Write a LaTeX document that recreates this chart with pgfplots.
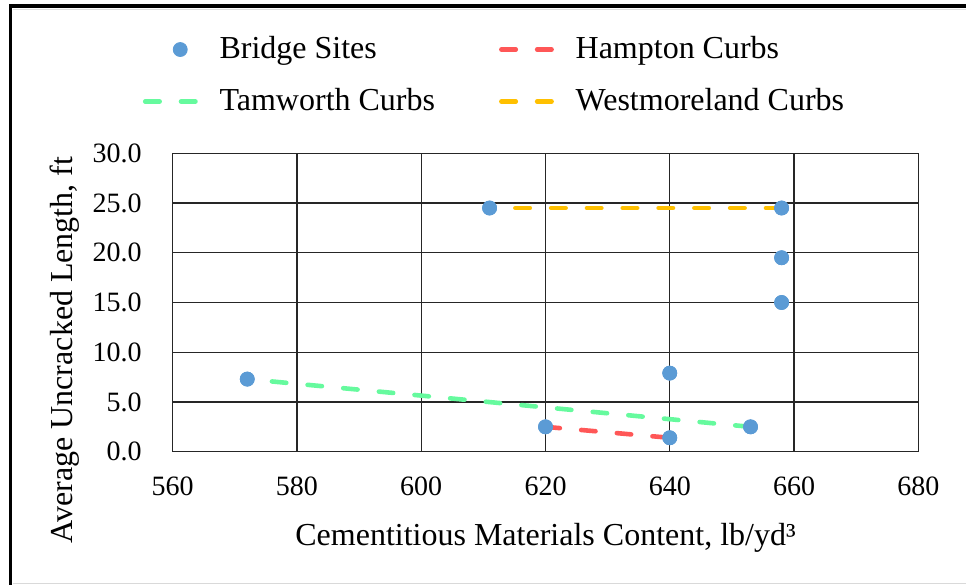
\documentclass[border=0pt]{standalone}
\usepackage{pgfplots}
\pgfplotsset{compat=1.18}
\usepackage{fontspec}
\setmainfont{Liberation Serif}
\definecolor{bridge}{HTML}{5B9BD5}
\definecolor{hampton}{HTML}{FF5757}
\definecolor{tamworth}{HTML}{66FA9E}
\definecolor{westm}{HTML}{FFC000}
\begin{document}
\begin{tikzpicture}
\useasboundingbox (0pt,0pt) rectangle (483pt,-292.5pt);
\draw[black, line width=2.1pt] (4.5pt,-3.1pt) -- (483pt,-3.1pt);
\draw[black, line width=1.65pt] (5.3pt,-3.1pt) -- (5.3pt,-292.5pt);
\draw[black!12, line width=0.6pt] (6.5pt,-4.6pt) -- (483pt,-4.6pt);
\draw[black!15, line width=0.5pt] (6.5pt,-291.5pt) -- (483pt,-291.5pt);
\begin{axis}[
  at={(86.35pt,-225.85pt)}, anchor=south west,
  scale only axis, width=372.8pt, height=149.2pt,
  xmin=560, xmax=680, ymin=0, ymax=30,
  xtick={560,580,...,680}, ytick={0,5,...,30},
  grid=major, major grid style={black!85, line width=0.7pt},
  axis line style={black!85, line width=0.7pt},
  major tick length=0pt,
  /pgf/number format/assume math mode=true,
  tick label style={font=\fontsize{14}{17}\selectfont},
  xticklabel style={/pgf/number format/set thousands separator={}, /tikz/.cd, anchor=north, inner sep=0pt, yshift=-12.6pt},
  yticklabel style={/pgf/number format/.cd, fixed, fixed zerofill, precision=1, /tikz/.cd, anchor=east, inner sep=0pt, xshift=-15.3pt},
  xlabel={Cementitious Materials Content, lb/yd³},
  xlabel style={font=\fontsize{16}{19}\selectfont, at={(axis description cs:0.5,-0.3127)}, anchor=base, inner sep=0pt},
  ylabel={Average Uncracked Length, ft},
  ylabel style={font=\fontsize{16}{19}\selectfont, at={(axis description cs:-0.1444,0.341)}, anchor=center, inner sep=0pt},
  legend columns=2,
  legend cell align=left,
  legend style={at={(axis description cs:-0.0399,1.2607)}, anchor=west, draw=none, fill=none, inner sep=0pt, outer sep=0pt,
    font=\fontsize{16}{19}\selectfont, row sep=9.9pt,
    cells={anchor=west, inner sep=0pt, text height=10.6pt, text depth=0pt},
    /tikz/every odd column/.style={column sep=6.5pt},
    /tikz/every even column/.style={column sep=30pt}},
  legend image code/.code={\draw[mark repeat=2,mark phase=2,#1] plot coordinates {(0pt,0pt) (17.5pt,0pt) (27.5pt,0pt)};},
  legend image post style={dash phase=0pt},
]
\addplot[only marks, mark=*, mark size=3.5pt, color=bridge, mark options={draw=bridge, fill=bridge}]
  coordinates {(572,7.3) (611,24.5) (620,2.5) (640,1.4) (640,7.9) (653,2.5) (658,24.5) (658,19.5) (658,15.0)};
\addlegendentry{Bridge Sites}
\addplot[hampton, no marks, line width=2.3pt, line cap=round, dash pattern=on 7.2pt off 10.7pt, dash phase=0pt]
  coordinates {(620,2.5) (640,1.4)};
\addlegendentry{Hampton Curbs}
\addplot[tamworth, no marks, line width=2.3pt, line cap=round, dash pattern=on 7.2pt off 10.7pt, dash phase=5.5pt]
  coordinates {(572,7.3) (653,2.5)};
\addlegendentry{Tamworth Curbs}
\addplot[westm, no marks, line width=2.3pt, line cap=round, dash pattern=on 7.2pt off 10.7pt, dash phase=5pt]
  coordinates {(611,24.5) (658,24.5)};
\addlegendentry{Westmoreland Curbs}
\addplot[only marks, forget plot, mark=*, mark size=3.5pt, color=bridge, mark options={draw=bridge, fill=bridge}]
  coordinates {(572,7.3) (611,24.5) (620,2.5) (640,1.4) (640,7.9) (653,2.5) (658,24.5) (658,19.5) (658,15.0)};
\end{axis}
\end{tikzpicture}
\end{document}
